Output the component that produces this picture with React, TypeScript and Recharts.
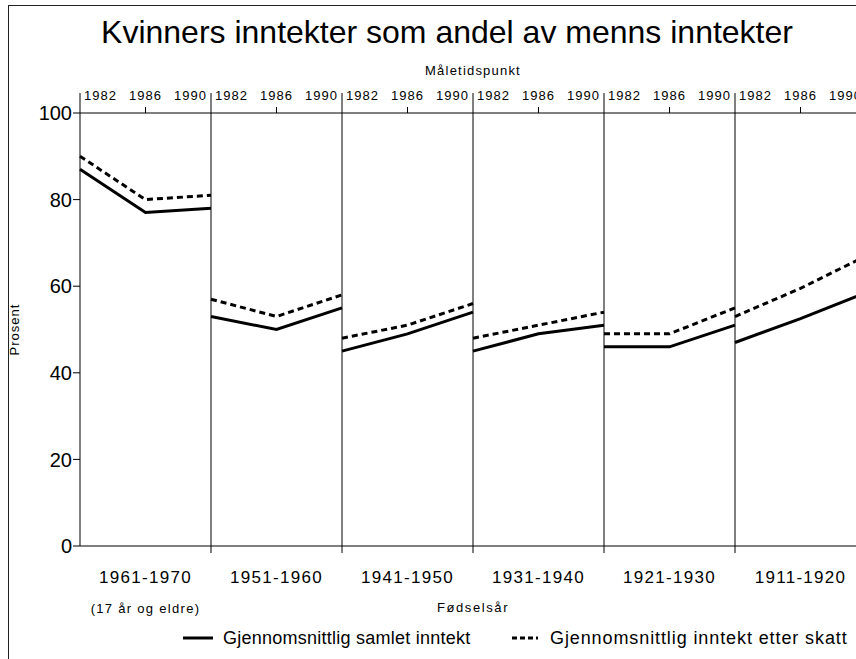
import { Label, Line, LineChart, ReferenceLine, XAxis, YAxis } from "recharts";

const cohorts = ["1961-1970", "1951-1960", "1941-1950", "1931-1940", "1921-1930", "1911-1920"];
const cohortNotes = ["(17 år og eldre)", "", "", "", "", ""];
const years = [1982, 1986, 1990];
const samletInntekt = [
  [87, 77, 78],
  [53, 50, 55],
  [45, 49, 54],
  [45, 49, 51],
  [46, 46, 51],
  [47, 52.5, 58.5],
];
const inntektEtterSkatt = [
  [90, 80, 81],
  [57, 53, 58],
  [48, 51, 56],
  [48, 51, 54],
  [49, 49, 55],
  [53, 59.5, 67],
];
const yTicks = [0, 20, 40, 60, 80, 100];
const seriesNames = ["Gjennomsnittlig samlet inntekt", "Gjennomsnittlig inntekt etter skatt"];

const FONT = "'Liberation Sans', Arial, Helvetica, sans-serif";
const span = years[years.length - 1] - years[0];
const end = cohorts.length * span;

const data = cohorts.flatMap((_, g) =>
  years.map((yr, j) => ({
    x: g * span + (yr - years[0]),
    [`s${g}`]: samletInntekt[g][j],
    [`d${g}`]: inntektEtterSkatt[g][j],
  }))
);

const axisTicks = cohorts.flatMap((_, g) => [g * span, g * span + span / 2]).concat(end);
const boundaries = cohorts.map((_, g) => g * span).slice(1).concat(end);

const yearText = { fontSize: 13, letterSpacing: 1, fill: "#000", fontFamily: FONT };

const TopTick = (props: any) => {
  const { x, y, payload } = props;
  const v = payload.value;
  if (v % span !== 0) {
    return (
      <g>
        <line x1={x} x2={x} y1={y} y2={y - 6} stroke="#000" />
        <text x={x} y={y - 13} textAnchor="middle" style={yearText}>
          {years[1]}
        </text>
      </g>
    );
  }
  return (
    <g>
      <line x1={x} x2={x} y1={y} y2={y - 20} stroke="#000" />
      {v > 0 && (
        <text x={x - 4} y={y - 13} textAnchor="end" style={yearText}>
          {years[2]}
        </text>
      )}
      {v < end && (
        <text x={x + 4} y={y - 13} textAnchor="start" style={yearText}>
          {years[0]}
        </text>
      )}
    </g>
  );
};

const BottomTick = (props: any) => {
  const { x, y, payload } = props;
  const v = payload.value;
  if (v % span === 0) {
    if (v === 0) return <g />;
    return <line x1={x} x2={x} y1={y} y2={y + 7} stroke="#000" />;
  }
  const g = Math.floor(v / span);
  return (
    <g>
      <text
        x={x}
        y={y + 37}
        textAnchor="middle"
        style={{ fontSize: 17, letterSpacing: 1.3, fill: "#000", fontFamily: FONT }}
      >
        {cohorts[g]}
      </text>
      {cohortNotes[g] && (
        <text
          x={x}
          y={y + 67}
          textAnchor="middle"
          style={{ fontSize: 13, letterSpacing: 1.3, fill: "#000", fontFamily: FONT }}
        >
          {cohortNotes[g]}
        </text>
      )}
    </g>
  );
};

const legendItem = {
  position: "absolute" as const,
  top: 627,
  display: "flex",
  alignItems: "center",
  fontSize: 18,
  lineHeight: "22px",
  color: "#000",
  whiteSpace: "nowrap" as const,
};

export default function App() {
  return (
    <div
      style={{
        position: "absolute",
        left: 0,
        top: 0,
        width: 856,
        height: 659,
        overflow: "hidden",
        background: "#fff",
        fontFamily: FONT,
      }}
    >
      <div
        style={{
          position: "absolute",
          left: 8,
          top: 5,
          width: 900,
          height: 700,
          border: "1px solid #222",
        }}
      />
      <div
        style={{
          position: "absolute",
          left: 0,
          top: 16,
          width: 894,
          textAlign: "center",
          fontSize: 32,
          lineHeight: "32px",
          color: "#000",
        }}
      >
        Kvinners inntekter som andel av menns inntekter
      </div>
      <div style={{ position: "absolute", left: 0, top: 0 }}>
        <LineChart width={900} height={659} data={data} margin={{ top: 60, right: 34, bottom: 23, left: 0 }}>
          <XAxis
            xAxisId="top"
            orientation="top"
            type="number"
            dataKey="x"
            domain={[0, end]}
            ticks={axisTicks}
            interval={0}
            height={53}
            tickSize={0}
            tickMargin={0}
            tickLine={false}
            axisLine={{ stroke: "#000" }}
            tick={(p: any) => <TopTick {...p} />}
          >
            <Label
              value="Måletidspunkt"
              position="insideTop"
              offset={6}
              style={{ fontSize: 13, letterSpacing: 1.2, fill: "#000", fontFamily: FONT }}
            />
          </XAxis>
          <XAxis
            xAxisId="bottom"
            orientation="bottom"
            type="number"
            dataKey="x"
            domain={[0, end]}
            ticks={axisTicks}
            interval={0}
            height={90}
            tickSize={0}
            tickMargin={0}
            tickLine={false}
            axisLine={{ stroke: "#000" }}
            tick={(p: any) => <BottomTick {...p} />}
          >
            <Label
              value="Fødselsår"
              position="insideTop"
              offset={57}
              style={{ fontSize: 13, letterSpacing: 1.6, fill: "#000", fontFamily: FONT }}
            />
          </XAxis>
          <YAxis
            domain={[0, 100]}
            ticks={yTicks}
            width={80}
            tickSize={7}
            tickMargin={1}
            tickLine={{ stroke: "#000" }}
            axisLine={{ stroke: "#000" }}
            tick={{ fontSize: 20, fill: "#000", fontFamily: FONT }}
          >
            <Label
              value="Prosent"
              angle={-90}
              position="insideLeft"
              offset={14}
              style={{ fontSize: 13, letterSpacing: 1, fill: "#000", fontFamily: FONT, textAnchor: "middle" }}
            />
          </YAxis>
          {boundaries.map((b) => (
            <ReferenceLine key={b} xAxisId="top" x={b} stroke="#000" strokeWidth={1} />
          ))}
          {cohorts.map((_, g) => (
            <Line
              key={`s${g}`}
              xAxisId="top"
              type="linear"
              dataKey={`s${g}`}
              stroke="#000"
              strokeWidth={3}
              dot={false}
              activeDot={false}
              connectNulls={false}
              isAnimationActive={false}
            />
          ))}
          {cohorts.map((_, g) => (
            <Line
              key={`d${g}`}
              xAxisId="top"
              type="linear"
              dataKey={`d${g}`}
              stroke="#000"
              strokeWidth={3}
              strokeDasharray="6 4"
              dot={false}
              activeDot={false}
              connectNulls={false}
              isAnimationActive={false}
            />
          ))}
        </LineChart>
      </div>
      <div style={{ ...legendItem, left: 183 }}>
        <svg width={30} height={6}>
          <line x1={0} x2={30} y1={3} y2={3} stroke="#000" strokeWidth={3} />
        </svg>
        <span style={{ marginLeft: 10, letterSpacing: 0.25 }}>{seriesNames[0]}</span>
      </div>
      <div style={{ ...legendItem, left: 512 }}>
        <svg width={26} height={6}>
          <line x1={0} x2={26} y1={3} y2={3} stroke="#000" strokeWidth={3} strokeDasharray="5 3" />
        </svg>
        <span style={{ marginLeft: 12, letterSpacing: 0.9 }}>{seriesNames[1]}</span>
      </div>
    </div>
  );
}
